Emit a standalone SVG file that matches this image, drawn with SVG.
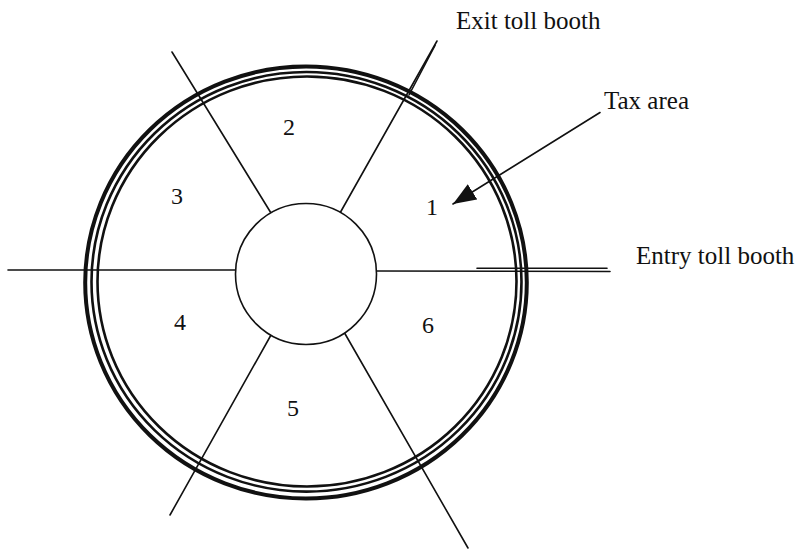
<svg xmlns="http://www.w3.org/2000/svg" width="803" height="551" viewBox="0 0 803 551">
<style>
  .ln { stroke: #111; stroke-width: 1.6; fill: none; stroke-linecap: round; }
  .ring { fill: none; stroke: #111; }
  .txt { font-family: "Liberation Serif", "Times New Roman", serif; font-size: 25px; fill: #111; }
  .num { font-family: "Liberation Serif", "Times New Roman", serif; font-size: 24px; fill: #111; text-anchor: middle; }
</style>
<defs>
  <marker id="arrow" markerUnits="userSpaceOnUse" markerWidth="26" markerHeight="18" refX="23" refY="9" orient="auto">
    <path d="M0,0 L23,9 L0,18 Z" fill="#111"/>
  </marker>
</defs>
<rect width="803" height="551" fill="#ffffff"/>

<g id="ring">
  <ellipse class="ring" cx="306" cy="282.5" rx="220.8" ry="216" stroke-width="4"/>
  <ellipse class="ring" cx="306.5" cy="281.8" rx="215" ry="209.8" stroke-width="2.6"/>
  <ellipse class="ring" cx="307" cy="281.5" rx="209.5" ry="205" stroke-width="2.6"/>
</g>

<g id="connectors">
  <line class="ln" x1="8" y1="270" x2="236" y2="270"/>
  <line class="ln" x1="377" y1="271" x2="610" y2="271.5"/>
  <line class="ln" x1="477" y1="268.3" x2="607" y2="268.3" stroke-width="1.3"/>
  <line class="ln" x1="172" y1="52" x2="271" y2="213"/>
  <line class="ln" x1="437" y1="41" x2="340" y2="213"/>
  <line class="ln" x1="435" y1="45.5" x2="409" y2="95" stroke-width="1.3"/>
  <line class="ln" x1="271" y1="335" x2="170" y2="515"/>
  <line class="ln" x1="344" y1="332" x2="468" y2="548"/>
  <line class="ln" x1="600" y1="112.5" x2="453" y2="204" marker-end="url(#arrow)"/>
</g>

<g id="hub">
  <circle cx="306" cy="274" r="70.5" fill="#ffffff" stroke="#111" stroke-width="1.6"/>
</g>

<g id="sector-1"><text class="num" x="432" y="215">1</text></g>
<g id="sector-2"><text class="num" x="289" y="135">2</text></g>
<g id="sector-3"><text class="num" x="177" y="204">3</text></g>
<g id="sector-4"><text class="num" x="180" y="330">4</text></g>
<g id="sector-5"><text class="num" x="293" y="416">5</text></g>
<g id="sector-6"><text class="num" x="428" y="333">6</text></g>

<g id="label-exit"><text class="txt" x="456" y="29">Exit toll booth</text></g>
<g id="label-tax"><text class="txt" x="604" y="109">Tax area</text></g>
<g id="label-entry"><text class="txt" x="636" y="264">Entry toll booth</text></g>
</svg>
